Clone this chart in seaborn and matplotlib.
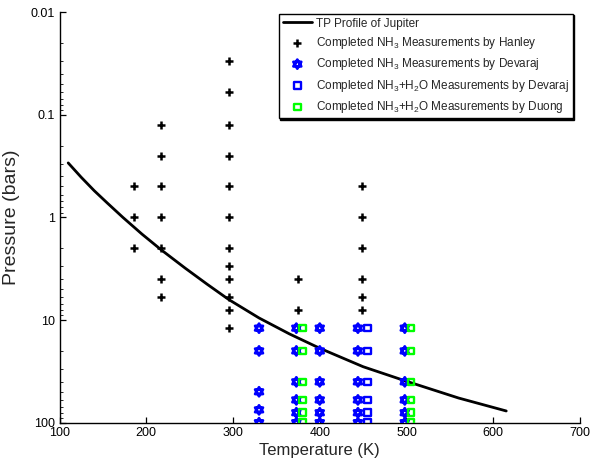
import numpy as np
import pandas as pd
import matplotlib
matplotlib.use("Agg")
import matplotlib.pyplot as plt
from matplotlib.path import Path
from matplotlib.ticker import FixedLocator, FixedFormatter, LogLocator, NullFormatter
import seaborn as sns

# ---------------- data ----------------
tp_temp = [110, 125, 140, 155, 173, 195, 217, 245, 270, 295, 330, 365, 400, 450, 500, 560, 615]
tp_pres = [0.295, 0.407, 0.55, 0.724, 1.0, 1.455, 2.065, 3.13, 4.47, 6.31, 9.55,
           13.65, 18.84, 28.5, 39.5, 57.5, 76.9]

hanley_temp = [186] * 3 + [217] * 7 + [295] * 12 + [375] * 2 + [449] * 6
hanley_pres = ([0.5, 1, 2]
               + [0.125, 0.25, 0.5, 1, 2, 4, 6]
               + [0.03, 0.06, 0.125, 0.25, 0.5, 1, 2, 3, 4, 6, 8, 12]
               + [4, 8]
               + [0.5, 1, 2, 4, 6, 8])

dev_levels = [12, 20, 40, 60, 80, 100]
dev330_levels = [12, 20, 50, 75, 100]
devaraj_temp = [330] * 5 + [373] * 6 + [400] * 6 + [444] * 6 + [498] * 6
devaraj_pres = dev330_levels + dev_levels * 4

devaraj_w_temp = [455] * 6
devaraj_w_pres = dev_levels

duong_temp = [380] * 6 + [505] * 6
duong_pres = dev_levels * 2

x_ticks = [100, 200, 300, 400, 500, 600, 700]
y_ticks = [0.01, 0.1, 1, 10, 100]
y_tick_labels = ["0.01", "0.1", "1", "10", "100"]

# ---------------- style ----------------
sns.set_style("ticks")
plt.rcParams["font.family"] = ["Liberation Sans", "DejaVu Sans"]
plt.rcParams["mathtext.fontset"] = "custom"
plt.rcParams["mathtext.rm"] = "Liberation Sans"
plt.rcParams["mathtext.it"] = "Liberation Sans:italic"

fig = plt.figure(figsize=(5.94, 4.62), dpi=100)
ax = fig.add_axes([0.1002, 0.0851, 0.8762, 0.8889])

# hexagram marker (two triangles)
ang_up = np.deg2rad([90, 210, 330])
ang_dn = np.deg2rad([270, 30, 150])
verts = []
codes = []
for angs in (ang_up, ang_dn):
    pts = [(np.cos(a), np.sin(a)) for a in angs]
    verts += pts + [pts[0]]
    codes += [Path.MOVETO, Path.LINETO, Path.LINETO, Path.CLOSEPOLY]
hexagram = Path(verts, codes)

tp_df = pd.DataFrame({"T": tp_temp, "P": tp_pres})
sns.lineplot(data=tp_df, x="T", y="P", sort=False, color="black", linewidth=2.0,
             label="TP Profile of Jupiter", ax=ax, zorder=1)

sns.scatterplot(x=hanley_temp, y=hanley_pres, marker="+", s=34, color="black",
                linewidth=1.8, label=r"Completed NH$_\mathregular{3}$ Measurements by Hanley",
                ax=ax, zorder=3)
sns.scatterplot(x=devaraj_temp, y=devaraj_pres, marker=hexagram, s=42,
                facecolor="none", edgecolor="#0000ff", linewidth=2.0,
                label=r"Completed NH$_\mathregular{3}$ Measurements by Devaraj",
                ax=ax, zorder=3)
sns.scatterplot(x=devaraj_w_temp, y=devaraj_w_pres, marker="s", s=22,
                facecolor="none", edgecolor="#0000ff", linewidth=1.7,
                label=r"Completed NH$_\mathregular{3}$+H$_\mathregular{2}$O Measurements by Devaraj",
                ax=ax, zorder=3)
sns.scatterplot(x=duong_temp, y=duong_pres, marker="s", s=22,
                facecolor="none", edgecolor="#00ff00", linewidth=1.7,
                label=r"Completed NH$_\mathregular{3}$+H$_\mathregular{2}$O Measurements by Duong",
                ax=ax, zorder=3)

ax.set_yscale("log")
ax.set_ylim(100, 0.01)
ax.set_xlim(100, 700)
ax.xaxis.set_major_locator(FixedLocator(x_ticks))
ax.yaxis.set_major_locator(FixedLocator(y_ticks))
ax.yaxis.set_major_formatter(FixedFormatter(y_tick_labels))
ax.yaxis.set_minor_locator(LogLocator(base=10, subs=np.arange(2, 10)))
ax.yaxis.set_minor_formatter(NullFormatter())

for s in ["top", "right"]:
    ax.spines[s].set_visible(False)
for s in ["left", "bottom"]:
    ax.spines[s].set_linewidth(1.0)
    ax.spines[s].set_color("black")

ax.tick_params(which="major", direction="in", length=4, width=0.9, labelsize=9,
               colors="black", pad=3)
ax.tick_params(which="minor", direction="in", length=2.5, width=0.7)
ax.set_xlabel("Temperature (K)", fontsize=12, labelpad=3)
ax.set_ylabel("Pressure (bars)", fontsize=14, labelpad=8)

leg = ax.legend(loc="upper right", bbox_to_anchor=(0.9866, 0.995), borderaxespad=0,
                fontsize=8.5, frameon=True, fancybox=False, edgecolor="black",
                handlelength=2.5, handletextpad=0.35, labelspacing=0.45,
                borderpad=0.3, shadow={"ox": 1.0, "oy": -1.0, "color": "black", "alpha": 1})
leg.get_frame().set_linewidth(1.0)
leg.get_frame().set_alpha(1)

fig.savefig("out.png", dpi=100)
